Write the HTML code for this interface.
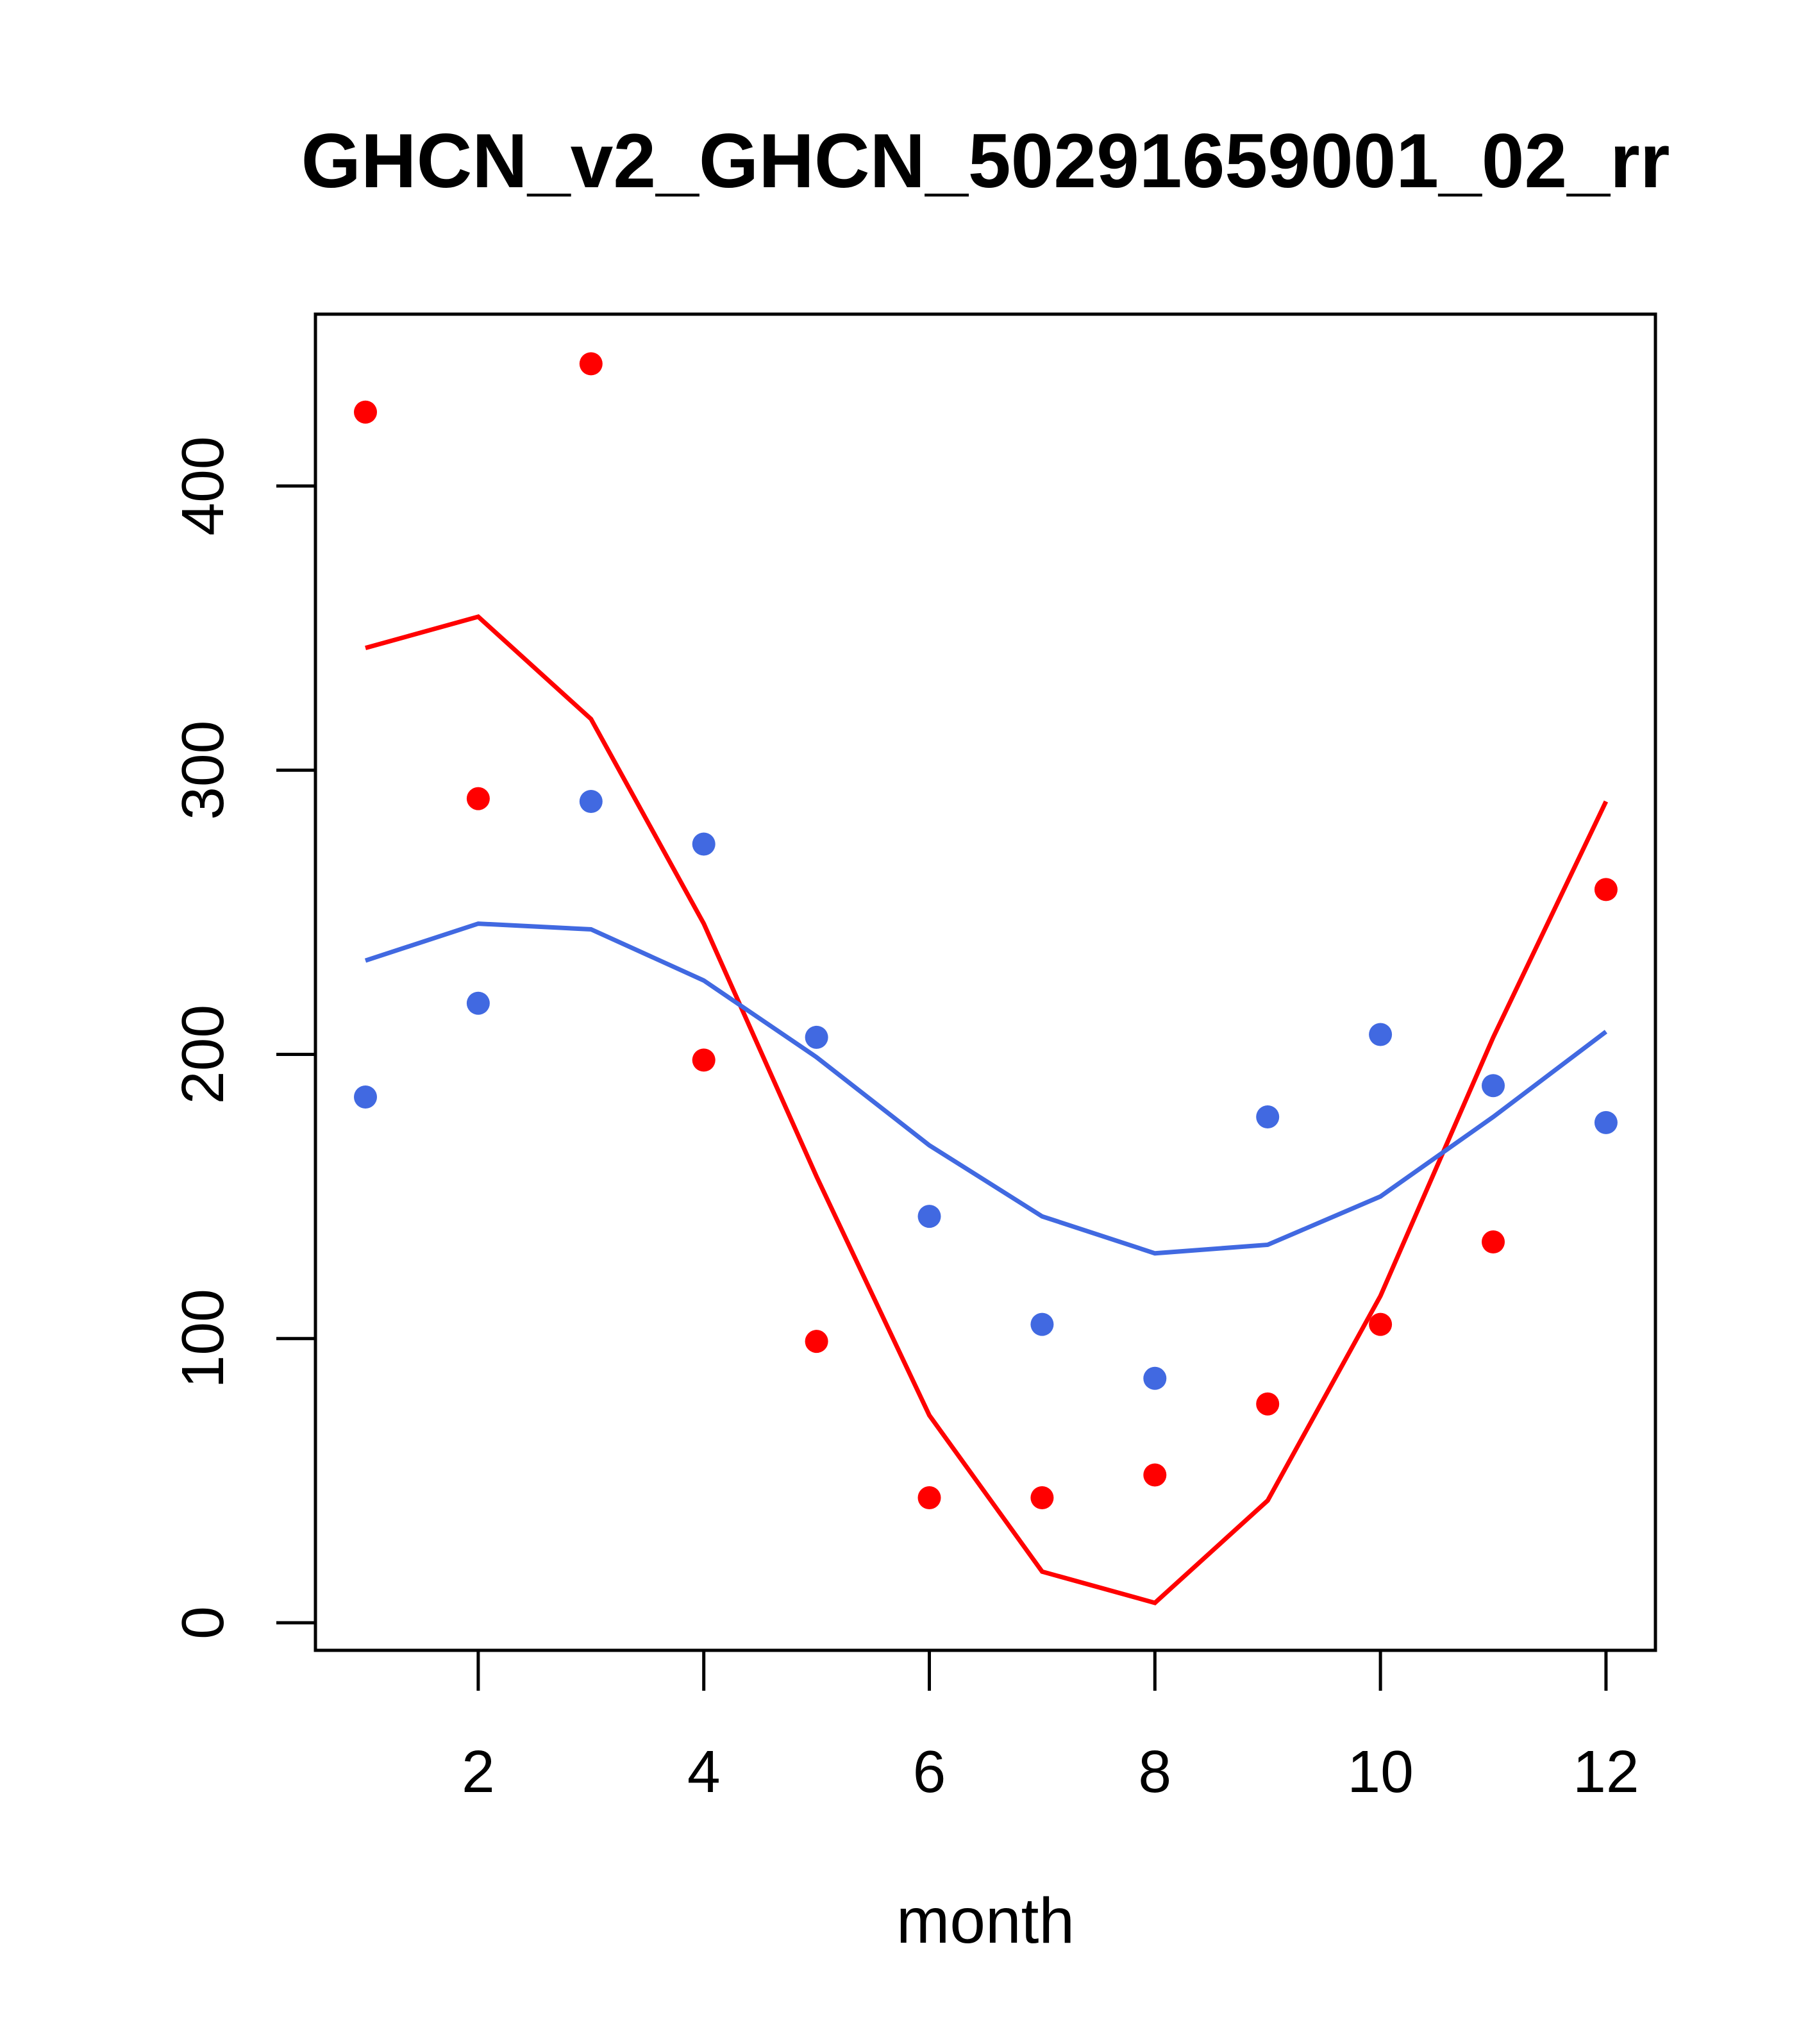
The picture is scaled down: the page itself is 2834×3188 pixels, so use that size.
<!DOCTYPE html>
<html><head><meta charset="utf-8">
<style>html,body{margin:0;padding:0;background:#fff}svg{display:block}</style>
</head><body>
<svg id="chart" width="2834" height="3188" viewBox="0 0 2834 3188" xmlns="http://www.w3.org/2000/svg" font-family="Liberation Sans, Arial, sans-serif">
<text x="1537" y="292" font-size="120" font-weight="bold" text-anchor="middle">GHCN_v2_GHCN_50291659001_02_rr</text>
<rect x="492" y="490" width="2090" height="2084" fill="none" stroke="#000" stroke-width="5"/>
<text x="1537" y="3030" font-size="100" text-anchor="middle">month</text>
<g id="xaxis"></g>
<g id="yaxis"></g>
<g id="series"></g>
</svg>
<script>
const months = [1,2,3,4,5,6,7,8,9,10,11,12];
const redPoints = [426,290,443,198,99,44,44,52,77,105,134,258];
const redLine = [343,354,318,246,157,73,18,7,43,115,206,289];
const bluePoints = [185,218,289,274,206,143,105,86,178,207,189,176];
const blueLine = [233,246,244,226,199,168,143,130,133,150,178,208];
const xTicks = [2,4,6,8,10,12];
const yTicks = [0,100,200,300,400];

const NS = 'http://www.w3.org/2000/svg';
function sx(m){ return 570 + (m-1)*175.9; }
function sy(v){ return 2531 - v*4.4325; }
function mk(tag, attrs, parent){
  const e = document.createElementNS(NS, tag);
  for (const k in attrs) e.setAttribute(k, attrs[k]);
  parent.appendChild(e); return e;
}
const xa = document.getElementById('xaxis');
const ya = document.getElementById('yaxis');
const sg = document.getElementById('series');

mk('line',{x1:sx(xTicks[0]),x2:sx(xTicks[xTicks.length-1]),y1:2574,y2:2574,stroke:'#000','stroke-width':5},xa);
xTicks.forEach(t=>{
  const l = mk('line',{x1:sx(t),x2:sx(t),y1:2574,y2:2637,stroke:'#000','stroke-width':5},xa);
  
  
  const tx = mk('text',{x:sx(t),y:2795,'font-size':93,'text-anchor':'middle'},xa);
  tx.textContent = t;
  
  
});
mk('line',{x1:492,x2:492,y1:sy(yTicks[0]),y2:sy(yTicks[yTicks.length-1]),stroke:'#000','stroke-width':5},ya);
yTicks.forEach(t=>{
  const l = mk('line',{x1:431,x2:492,y1:sy(t),y2:sy(t),stroke:'#000','stroke-width':5},ya);
  
  
  const tx = mk('text',{x:0,y:0,'font-size':93,'text-anchor':'middle',transform:`translate(348,${sy(t)}) rotate(-90)`},ya);
  tx.textContent = t;
  
  
});

function drawLine(vals, color, name){
  const p = mk('polyline',{points:vals.map((v,i)=>sx(months[i])+','+sy(v)).join(' '),fill:'none',stroke:color,'stroke-width':7},sg);
  
  
}
function drawPts(vals, color, name){
  vals.forEach((v,i)=>{
    const c = mk('circle',{cx:sx(months[i]),cy:sy(v),r:18,fill:color},sg);
    
    
  });
}
drawLine(redLine,'#ff0000','red-line');
drawLine(blueLine,'#4169e1','blue-line');
drawPts(redPoints,'#ff0000','red-point');
drawPts(bluePoints,'#4169e1','blue-point');
</script>
</body></html>
